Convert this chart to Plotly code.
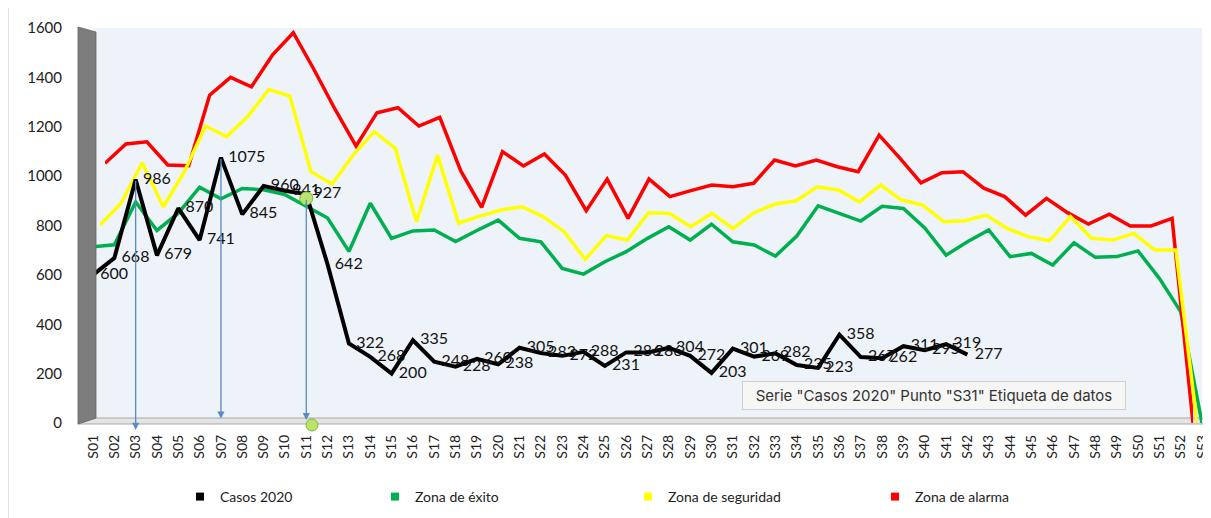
import plotly.graph_objects as go

weeks = ["S01", "S02", "S03", "S04", "S05", "S06", "S07", "S08", "S09", "S10",
         "S11", "S12", "S13", "S14", "S15", "S16", "S17", "S18", "S19", "S20",
         "S21", "S22", "S23", "S24", "S25", "S26", "S27", "S28", "S29", "S30",
         "S31", "S32", "S33", "S34", "S35", "S36", "S37", "S38", "S39", "S40",
         "S41", "S42", "S43", "S44", "S45", "S46", "S47", "S48", "S49", "S50",
         "S51", "S52", "S53"]

casos_2020 = [600, 668, 986, 679, 870, 741, 1075, 845, 960, 941,
              927, 642, 322, 268, 200, 335, 248, 228, 260, 238,
              305, 283, 272, 288, 231, 286, 286, 304, 272, 203,
              301, 269, 282, 235, 223, 358, 267, 262, 311, 295,
              319, 277]

zona_exito = [714, 722, 895, 780, 850, 955, 908, 950, 945, 925,
              878, 830, 695, 890, 748, 778, 782, 735, 780, 822,
              748, 734, 626, 603, 653, 694, 748, 795, 741, 805,
              734, 721, 676, 757, 880, 849, 818, 878, 869, 790,
              680, 734, 782, 674, 687, 640, 730, 671, 674, 697,
              586, 451, 0]

zona_seguridad = [802, 890, 1054, 876, 1018, 1203, 1160, 1241, 1351, 1324,
                  1018, 968, 1085, 1180, 1112, 815, 1085, 809, 838, 863,
                  876, 836, 775, 663, 759, 741, 852, 849, 795, 849,
                  788, 852, 887, 900, 957, 944, 896, 964, 903, 883,
                  815, 819, 842, 788, 755, 738, 836, 748, 741, 768,
                  701, 701, 0]

zona_alarma = [1052, 1130, 1139, 1045, 1042, 1328, 1400, 1362, 1490, 1581,
               1430, 1270, 1122, 1257, 1277, 1203, 1238, 1022, 873, 1099,
               1041, 1090, 1004, 860, 988, 829, 988, 917, 941, 964,
               957, 971, 1065, 1041, 1065, 1038, 1018, 1166, 1072, 973,
               1014, 1018, 951, 917, 842, 910, 852, 806, 846, 798,
               798, 829, 0]

y_ticks = [0, 200, 400, 600, 800, 1000, 1200, 1400, 1600]

series_names = ["Casos 2020", "Zona de éxito", "Zona de seguridad", "Zona de alarma"]
series_colors = ["#000000", "#00b050", "#ffff00", "#ff0000"]

arrow_weeks = ["S03", "S07", "S11"]
arrow_tops = [986, 1075, 910]
arrow_heads = [-28, 18, 12]

tooltip_text = 'Serie "Casos 2020" Punto "S31" Etiqueta de datos'

FONT = "Lato"

# page body has an 8px margin; figure is sized to fit the 1211x518 window
OFF = 8
W, H = 1211 - OFF, 518 - OFF
L, T = 93 - OFF, 28 - OFF
PW, PH = 1109, 395
R = W - L - PW
B = H - T - PH


def px(xp):
    """page x pixel -> paper fraction"""
    return (xp - OFF - L) / PW


def py(yp):
    """page y pixel -> paper fraction"""
    return (T + PH - (yp - OFF)) / PH


fig = go.Figure()

# zone lines (back to front); deeper series sit on slightly narrower axes (3-D depth)
for name, vals, col, xa in [(series_names[3], zona_alarma, series_colors[3], "x2"),
                            (series_names[2], zona_seguridad, series_colors[2], "x3"),
                            (series_names[1], zona_exito, series_colors[1], "x")]:
    fig.add_trace(go.Scatter(x=weeks[:len(vals)], y=vals, mode="lines",
                             xaxis=xa, yaxis="y",
                             line=dict(color=col, width=3.5),
                             showlegend=False, hoverinfo="skip", cliponaxis=False))

# cases line with data labels (front-most subplot so it sits on top)
fig.add_trace(go.Scatter(
    x=weeks[:len(casos_2020)], y=casos_2020, mode="lines+markers+text",
    xaxis="x4", yaxis="y",
    line=dict(color="#000000", width=4),
    marker=dict(size=10, color="rgba(0,0,0,0)"),
    text=[str(v) for v in casos_2020], textposition="middle right",
    textfont=dict(family=FONT, size=16, color="#111111"),
    showlegend=False, cliponaxis=False))

# legend-only entries (square symbols), each in its own legend box
legend_ids = ["legend", "legend2", "legend3", "legend4"]
for name, col, lid in zip(series_names, series_colors, legend_ids):
    fig.add_trace(go.Scatter(x=[None], y=[None], mode="markers",
                             marker=dict(symbol="square", size=8, color=col),
                             name=name, legend=lid, showlegend=True))

# arrows drawn on the chart
for wk, top, head in zip(arrow_weeks, arrow_tops, arrow_heads):
    fig.add_annotation(x=wk, y=head, ax=wk, ay=top, xref="x", yref="y",
                       axref="x", ayref="y", text="", showarrow=True,
                       arrowhead=2, arrowsize=1.1, arrowwidth=1.3,
                       arrowcolor="#5a8ac6", standoff=0)

# selection handle on the third arrow
fig.add_trace(go.Scatter(x=[arrow_weeks[2]], y=[arrow_tops[2]], mode="markers",
                         xaxis="x4", yaxis="y",
                         marker=dict(size=13, color="#b9e36a",
                                     line=dict(color="#86b540", width=1)),
                         showlegend=False, hoverinfo="skip", cliponaxis=False))

shapes = []
# plot-area background (drawn as one shape so that all depth subplots share it)
shapes.append(dict(type="rect", xref="paper", yref="paper", x0=0, x1=1, y0=0, y1=1,
                   fillcolor="#eef3f9", line=dict(width=0), layer="below"))
# hatched left wall
shapes.append(dict(type="path", xref="paper", yref="paper",
                   path=f"M {px(78)},{py(27)} L {px(96)},{py(32)} L {px(96)},{py(418)} L {px(78)},{py(424)} Z",
                   fillcolor="#7d7d7d", line=dict(color="#666666", width=0.8), layer="above"))
# floor
shapes.append(dict(type="path", xref="paper", yref="paper",
                   path=f"M {px(78)},{py(424)} L {px(96)},{py(418)} L {px(1206)},{py(418)} L {px(1206)},{py(424)} Z",
                   fillcolor="#e4e4e4", line=dict(color="#a8a8a8", width=1), layer="below"))
# left frame line of the chart object
shapes.append(dict(type="line", xref="paper", yref="paper",
                   x0=px(8), x1=px(8), y0=py(8), y1=py(518),
                   line=dict(color="#c8c8c8", width=1)))
# bottom selection handle
shapes.append(dict(type="circle", xref="paper", yref="paper",
                   xsizemode="pixel", ysizemode="pixel",
                   xanchor=px(312), yanchor=py(425),
                   x0=-6, x1=6, y0=-6, y1=6,
                   fillcolor="#b9e36a", line=dict(color="#86b540", width=1)))

fig.add_annotation(xref="paper", yref="paper", x=px(934), y=py(395),
                   text=tooltip_text, showarrow=False,
                   font=dict(family="Inter", size=15, color="#333333"),
                   bgcolor="#f6f6f6", bordercolor="#cfcfcf", borderwidth=1,
                   borderpad=4, width=374, xanchor="center", yanchor="middle")

legend_x = [180, 375, 628, 875]
layout_legends = {}
for lid, lx in zip(legend_ids, legend_x):
    layout_legends[lid] = dict(x=px(lx), y=py(497), xanchor="left", yanchor="middle",
                               orientation="h", bgcolor="rgba(0,0,0,0)",
                               font=dict(family=FONT, size=14, color="#222222"),
                               itemwidth=30)

depth_axis = dict(type="category", categoryorder="array", categoryarray=weeks,
                  range=[0, len(weeks) - 1], visible=False, anchor="y",
                  showgrid=False, zeroline=False)

fig.update_layout(
    width=W, height=H,
    margin=dict(l=L, r=R, t=T, b=B, autoexpand=False),
    paper_bgcolor="#ffffff",
    plot_bgcolor="rgba(0,0,0,0)",
    shapes=shapes,
    xaxis=dict(type="category", categoryorder="array", categoryarray=weeks,
               range=[0, len(weeks) - 1], tickangle=-90, showgrid=False,
               zeroline=False, showline=False, ticks="",
               tickfont=dict(family=FONT, size=14, color="#222222"),
               ticklabelstandoff=8, automargin=False),
    xaxis2=dict(depth_axis, domain=[px(105), px(1193)]),
    xaxis3=dict(depth_axis, domain=[px(100), px(1197)]),
    xaxis4=dict(depth_axis, domain=[0, 1]),
    yaxis=dict(range=[0, 1600], tickvals=y_ticks, showgrid=False, zeroline=False,
               showline=False, ticks="",
               tickfont=dict(family=FONT, size=15, color="#222222"),
               ticklabelstandoff=30, automargin=False),
    **layout_legends,
)

fig.write_html("out.html")
